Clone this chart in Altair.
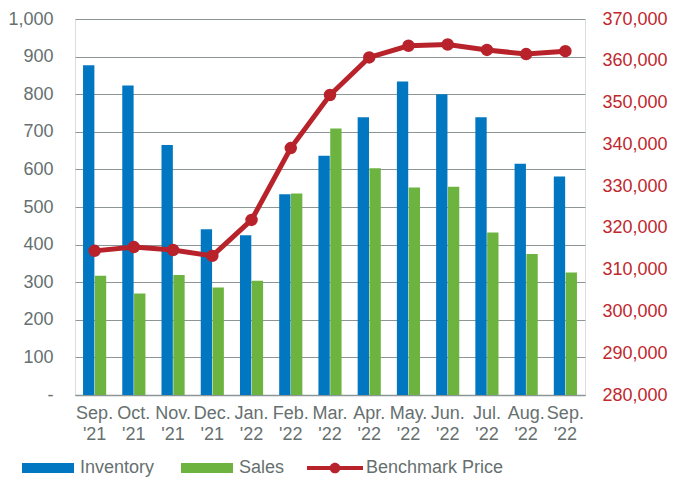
import altair as alt
import pandas as pd

months = ["Sep. '21", "Oct. '21", "Nov. '21", "Dec. '21", "Jan. '22", "Feb. '22", "Mar. '22",
          "Apr. '22", "May. '22", "Jun. '22", "Jul. '22", "Aug. '22", "Sep. '22"]
inventory = [877, 823, 665, 441, 425, 534, 636, 739, 834, 800, 739, 615, 581]
sales = [317, 270, 319, 286, 304, 536, 709, 603, 552, 554, 432, 375, 326]
price = [314500, 315400, 314700, 313300, 321900, 339100, 351800, 360800, 363600, 363900,
         362600, 361600, 362300]

bar_series = ["Inventory", "Sales"]
bar_colors = ["#0077C0", "#6DB33F"]
line_series = ["Benchmark Price"]
line_colors = ["#B8232B"]

df = pd.DataFrame({"month": months, "Inventory": inventory, "Sales": sales, "Price": price})

GRAY = "#66706F"
RED = "#C0282E"
FONT = "Liberation Sans"

x_enc = alt.X("month:N", sort=months, title=None,
              scale=alt.Scale(paddingInner=0.41, paddingOuter=0.205),
              axis=alt.Axis(labelExpr="split(datum.label, ' ')", labelAngle=0,
                            labelFontSize=18, labelColor=GRAY, labelFont=FONT,
                            labelLineHeight=21, labelPadding=9, ticks=False,
                            domain=True, domainColor="#8C9696", domainWidth=1.5,
                            labelBaseline="top"))

rect_path = "M-1,-0.19H1V0.19H-1Z"
line_path = ("M-1,-0.07H1V0.07H-1Z "
             "M-0.19,0A0.19,0.19 0 1 1 0.19,0A0.19,0.19 0 1 1 -0.19,0Z")

bar_legend = alt.Legend(
    title=None, orient="none", legendX=-53, legendY=423, direction="horizontal",
    symbolType=rect_path, symbolSize=2704, symbolStrokeWidth=0,
    labelFontSize=18, labelColor=GRAY, labelFont=FONT,
    labelOffset=6, columnPadding=26, padding=0,
)
line_legend = alt.Legend(
    title=None, orient="none", legendX=232, legendY=421, direction="horizontal",
    symbolType=line_path, symbolSize=3136, symbolStrokeWidth=0,
    symbolFillColor="#B8232B", symbolStrokeColor="#B8232B",
    labelFontSize=18, labelColor=GRAY, labelFont=FONT,
    labelOffset=3, padding=0,
)

bars = alt.Chart(df).transform_fold(["Inventory", "Sales"], as_=["series", "value"]).mark_bar().encode(
    x=x_enc,
    xOffset=alt.XOffset("series:N", sort=bar_series, scale=alt.Scale(paddingInner=0.04)),
    y=alt.Y("value:Q", title=None,
            scale=alt.Scale(domain=[0, 1000], nice=False, zero=True),
            axis=alt.Axis(values=list(range(0, 1001, 100)), format=",.0f",
                          labelExpr="datum.value == 0 ? '-' : datum.label",
                          labelFontSize=18, labelColor=GRAY, labelFont=FONT,
                          ticks=False, domain=False, labelPadding=22,
                          grid=True, gridColor="#8C9696", gridWidth=1)),
    fill=alt.Fill("series:N", scale=alt.Scale(domain=bar_series, range=bar_colors), legend=bar_legend),
)

line = alt.Chart(df).transform_calculate(series="'Benchmark Price'").mark_line(
    strokeWidth=5, point=alt.OverlayMarkDef(filled=True, size=110, fill="#B8232B", stroke="#B8232B")
).encode(
    x=alt.X("month:N", sort=months),
    y=alt.Y("Price:Q", title=None,
            scale=alt.Scale(domain=[280000, 370000], nice=False, zero=False),
            axis=alt.Axis(orient="right", values=list(range(280000, 370001, 10000)), format=",.0f",
                          labelFontSize=18, labelColor=RED, labelFont=FONT,
                          ticks=False, domain=False, labelPadding=17, grid=False)),
    stroke=alt.Stroke("series:N", scale=alt.Scale(domain=line_series, range=line_colors), legend=line_legend),
)

chart = alt.layer(bars, line).resolve_scale(y="independent").properties(
    width=510, height=376,
    autosize=alt.AutoSizeParams(type="none"),
    padding={"left": 67, "top": 11, "right": 83, "bottom": 82},
).configure_view(stroke=None).configure(background="white")

chart.save("out.html", embed_options={"renderer": "svg", "actions": False})
